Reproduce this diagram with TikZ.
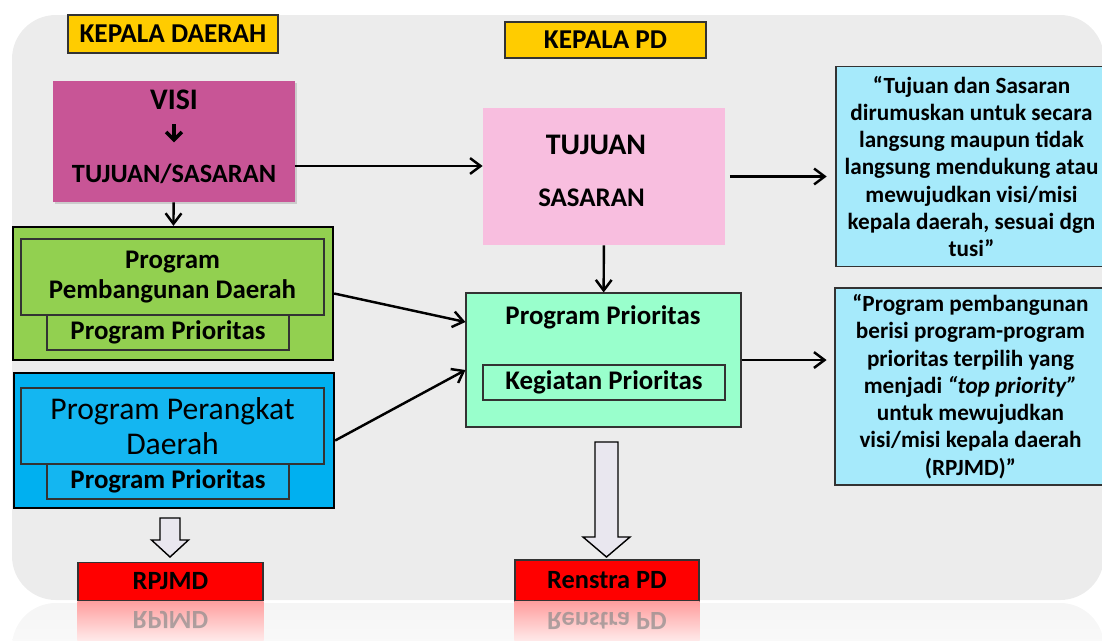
\documentclass[tikz,border=0pt]{standalone}
\usepackage{fontspec}
\setmainfont{Carlito}
\usetikzlibrary{arrows.meta,shadows}

\definecolor{bggray}{HTML}{ECECEC}
\definecolor{kyellow}{HTML}{FFCC00}
\definecolor{visipink}{HTML}{C85596}
\definecolor{pgreen}{HTML}{92D050}
\definecolor{pblue}{HTML}{00B0F0}
\definecolor{tspink}{HTML}{F8BEDF}
\definecolor{ppmint}{HTML}{99FFCC}
\definecolor{noteblue}{HTML}{A6EAFB}
\definecolor{hollowfill}{HTML}{E9E7EF}

\tikzset{
  sz/.style 2 args={minimum width=#1*0.02cm, minimum height=#2*0.02cm},
  box/.style={draw=black!80, line width=0.6pt, inner sep=0pt, align=center},
  outerbox/.style={draw=black, line width=1.3pt, inner sep=0pt},
  label15/.style={font=\bfseries\fontsize{15.3}{17}\selectfont},
  link/.style={->, line width=1.4pt},
  hollow/.style={draw=black, line width=0.8pt, fill=hollowfill, line join=miter},
  notebox/.style={draw=black!80, line width=0.6pt, fill=noteblue, inner sep=0pt, align=center,
    font=\bfseries\fontsize{13.2}{15.5}\selectfont}
}

\begin{document}
\begin{tikzpicture}[x=0.02cm, y=-0.02cm, >={Straight Barb[length=6pt,width=9pt]}]
\clip (0,0) rectangle (1102,640);
% panel and its reflection
\fill[bggray, rounded corners=25pt] (12,15) rectangle (1104,600);
\shade[top color=black!4, bottom color=white, rounded corners=25pt] (12,603) rectangle (1104,700);

% heads
\node[box, fill=kyellow, sz={210}{38}, font=\bfseries\fontsize{15.5}{18}\selectfont] (kd) at (173,34) {KEPALA DAERAH};
\node[box, fill=kyellow, sz={201}{36}, font=\bfseries\fontsize{15.5}{18}\selectfont] (kpd) at (605.5,40) {KEPALA PD};

% left column
\node[fill=visipink, sz={242}{121}, inner sep=0pt,
  drop shadow={shadow xshift=1.2pt, shadow yshift=-1.2pt, opacity=0.3}] (visi) at (174,141.5) {};
\node[inner sep=0pt, font=\bfseries\fontsize{17}{20}\selectfont] (visit) at (174,100) {VISI};
\node[inner sep=0pt, font=\bfseries\fontsize{15}{17}\selectfont] (tst) at (174,174) {TUJUAN/SASARAN};
\draw[line width=2pt, {>}={Straight Barb[length=4.5pt,width=9pt]}, ->] ([yshift=-8pt]visit.south) -- ++(0,18);

\node[outerbox, fill=pgreen, sz={320}{133}] (pbd) at (173,293.5) {};
\node[box, fill=pgreen, sz={303}{76}, label15] (pbdin) at (172.5,277) {Program\\Pembangunan Daerah};
\node[box, fill=pgreen, sz={242}{35}, label15] (pbdpp) at (168,332.5) {Program Prioritas};

\node[outerbox, fill=pblue, sz={320}{135}] (ppd) at (174,440.5) {};
\node[box, fill=pblue!92!white, sz={303}{76}, font=\fontsize{18}{19.5}\selectfont] (ppdin) at (172.5,426) {Program Perangkat\\Daerah};
\node[box, fill=pblue!92!white, sz={242}{35}, label15] (ppdpp) at (168,481.5) {Program Prioritas};

\node[box, fill=red, sz={185}{38}, font=\bfseries\fontsize{15}{18}\selectfont] (rpjmd) at (170.5,581.5) {RPJMD};

% middle column
\node[fill=tspink, sz={242}{137}, inner sep=0pt] (tsbox) at (604,176.5) {};
\node[inner sep=0pt, font=\bfseries\fontsize{17}{20}\selectfont] (tujuan) at (596,145) {TUJUAN};
\node[inner sep=0pt, font=\bfseries\fontsize{15.3}{18}\selectfont] (sasaran) at (591.5,198) {SASARAN};

\node[box, fill=ppmint, sz={275}{134}] (ppbox) at (603.5,360) {};
\node[inner sep=0pt, label15] (ppt) at (603,317) {Program Prioritas};
\node[box, fill=ppmint, sz={242}{35}, label15] (kpbox) at (604,382.5) {Kegiatan Prioritas};

\node[box, fill=red, sz={184}{41}, font=\bfseries\fontsize{15}{18}\selectfont] (renstra) at (607,580.5) {Renstra PD};

% right column
\node[notebox, sz={271}{200}] (note1) at (971.5,166.5) {“Tujuan dan Sasaran\\dirumuskan untuk secara\\langsung maupun tidak\\langsung mendukung atau\\mewujudkan visi/misi\\kepala daerah, sesuai dgn\\tusi”};
\node[notebox, sz={271}{197}] (note2) at (970.5,386.5) {“Program pembangunan\\berisi program-program\\prioritas terpilih yang\\menjadi \textit{“top priority”}\\untuk mewujudkan\\visi/misi kepala daerah\\(RPJMD)”};

% connectors
\draw[link] (visi) -- (pbd);
\draw[link] ([yshift=-0.49cm]visi.east) -- ([yshift=-0.49cm]visi.east -| tsbox.west);
\draw[link] (tsbox) -- (ppbox);
\draw[link] (pbd.east) -- ([yshift=0.76cm]ppbox.west);
\draw[link] (ppd.east) -- ([yshift=-0.2cm]ppbox.west);
\draw[link, shorten <=2.5pt, shorten >=5pt] (tsbox.east) -- (tsbox.east -| note1.west);
\draw[link, shorten >=4.5pt] (ppbox.east) -- (ppbox.east -| note2.west);

% hollow arrows
\foreach \cx/\ty/\hy/\sw/\hw in {170/518/540/10/18.5, 606.5/442/537/11.5/23.5}
{
\draw[hollow] (\cx-\sw,\ty) -- (\cx+\sw,\ty) -- (\cx+\sw,\hy) -- (\cx+\hw,\hy) -- (\cx,557)
  -- (\cx-\hw,\hy) -- (\cx-\sw,\hy) -- cycle;
}

% reflections
\foreach \nm/\txt in {rpjmd/RPJMD, renstra/Renstra PD}
{
\shade[top color=red!38, bottom color=red!4] (\nm.south west) rectangle ([yshift=-0.9cm]\nm.south east);
\node[yscale=-1, transform shape, text=black!45, opacity=0.7, font=\bfseries\fontsize{15}{18}\selectfont]
  at ([yshift=-0.38cm]\nm.south) {\txt};
}
\end{tikzpicture}
\end{document}
